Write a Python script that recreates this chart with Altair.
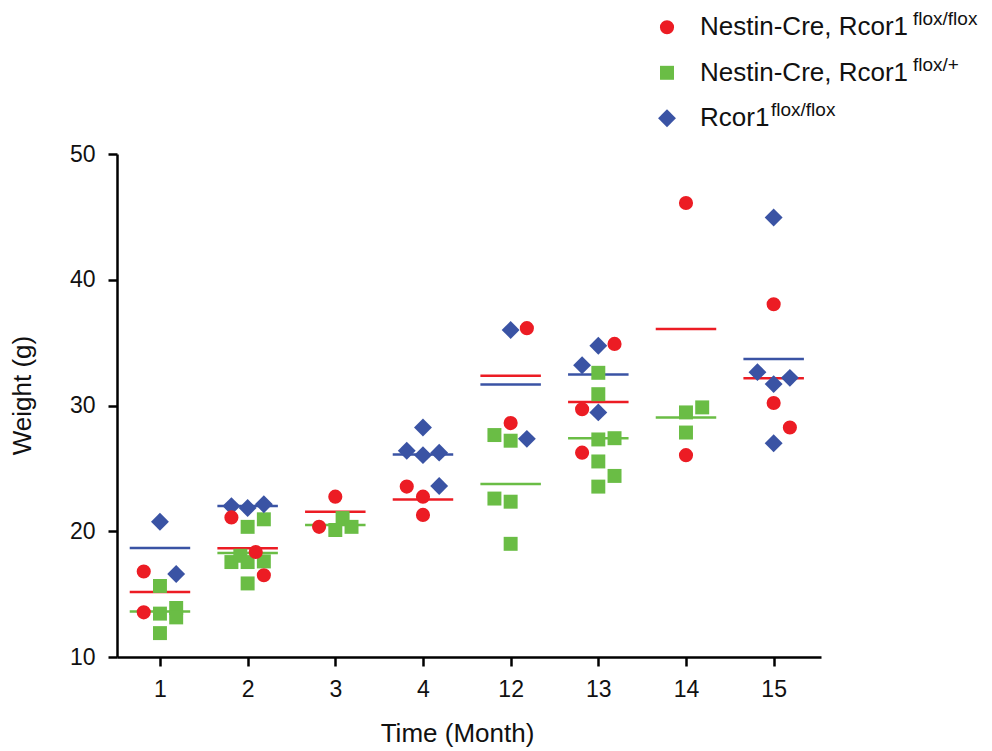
import altair as alt
import pandas as pd

# ---------------- data ----------------
months = ["1", "2", "3", "4", "12", "13", "14", "15"]
groups = ["Nestin-Cre, Rcor1 flox/flox", "Nestin-Cre, Rcor1 flox/+", "Rcor1 flox/flox"]
legend_main = ["Nestin-Cre, Rcor1", "Nestin-Cre, Rcor1", "Rcor1"]
legend_sup = ["flox/flox", "flox/+", "flox/flox"]
colors = ["#EC1C24", "#6ABD45", "#3A53A4"]
shapes = ["circle", "square", "diamond"]

# Nestin-Cre, Rcor1 flox/flox (red circles)
red_month = ["1", "1", "2", "2", "2", "3", "3", "4", "4", "4", "12", "12",
             "13", "13", "13", "14", "14", "15", "15", "15"]
red_slot = [-1, -1, -1, 0.5, 1, 0, -1, -1, 0, 0, 1, 0, 1, -1, -1, 0, 0, 0, 0, 1]
red_weight = [16.8, 13.55, 21.1, 18.35, 16.5, 22.75, 20.35, 23.55, 22.75, 21.3,
              36.15, 28.6, 34.9, 29.7, 26.25, 46.1, 26.05, 38.05, 30.2, 28.25]

# Nestin-Cre, Rcor1 flox/+ (green squares)
green_month = ["1", "1", "1", "1", "1",
               "2", "2", "2", "2", "2", "2", "2",
               "3", "3", "3",
               "12", "12", "12", "12", "12",
               "13", "13", "13", "13", "13", "13", "13",
               "14", "14", "14"]
green_slot = [0, 0, 1, 1, 0,
              0, 1, -1, -0.45, 0, 1, 0,
              0.45, 0, 1,
              -1, 0, -1, 0, 0,
              0, 0, 0, 1, 0, 1, 0,
              0, 1, 0]
green_weight = [15.65, 13.45, 13.9, 13.15, 11.9,
                20.35, 20.95, 17.55, 18.05, 17.55, 17.6, 15.85,
                21.05, 20.1, 20.35,
                27.65, 27.2, 22.6, 22.35, 19.0,
                32.6, 30.9, 27.3, 27.4, 25.55, 24.4, 23.55,
                29.45, 29.85, 27.85]

# Rcor1 flox/flox (blue diamonds)
blue_month = ["1", "1", "2", "2", "2", "4", "4", "4", "4", "4", "12", "12",
              "13", "13", "13", "15", "15", "15", "15", "15"]
blue_slot = [0, 1, -1, 0, 1, 0, -1, 0, 1, 1, 0, 1, 0, -1, 0, 0, -1, 1, 0, 0]
blue_weight = [20.75, 16.6, 22.0, 21.85, 22.15, 28.25, 26.4, 26.05, 26.25, 23.6,
               36.0, 27.35, 34.75, 33.2, 29.45, 44.95, 32.65, 32.2, 31.7, 27.0]

JITTER = 0.185
HALF_MEAN = 0.345
FONT = "Liberation Sans, Arial, Helvetica, sans-serif"
MARK_SIZE = {"circle": 200, "square": 195, "diamond": 320}


def frame(month, slot, weight, group):
    d = pd.DataFrame({"month": month, "slot": slot, "weight": weight})
    d["group"] = group
    d["idx"] = [months.index(m) for m in month]
    d["xpos"] = d["idx"] + d["slot"] * JITTER
    return d


frames = {
    groups[0]: frame(red_month, red_slot, red_weight, groups[0]),
    groups[1]: frame(green_month, green_slot, green_weight, groups[1]),
    groups[2]: frame(blue_month, blue_slot, blue_weight, groups[2]),
}
df = pd.concat([frames[groups[1]], frames[groups[2]], frames[groups[0]]],
               ignore_index=True)

# ---------------- scales / axes ----------------
x_scale = alt.Scale(domain=[-0.49, 7.54], nice=False, zero=False)
y_scale = alt.Scale(domain=[10, 50], nice=False, zero=False)
color_scale = alt.Scale(domain=groups, range=colors)

months_js = "[" + ",".join("'" + m + "'" for m in months) + "]"

x_axis = alt.Axis(
    values=list(range(len(months))),
    labelExpr=months_js + "[datum.value]",
    title="Time (Month)",
    titleX=340, titleY=84, titleBaseline="alphabetic", titleAlign="center",
    titleFontSize=26, titleFontWeight="normal", titleFont=FONT, titleColor="#111",
    labelFontSize=23, labelFont=FONT, labelColor="#111", labelPadding=12,
    tickSize=9, tickWidth=2.5, tickColor="#000",
    domainWidth=2.5, domainColor="#000", grid=False, labelFlush=False,
)
y_axis = alt.Axis(
    values=[10, 20, 30, 40, 50],
    title="Weight (g)",
    titleX=-95, titleY=241, titleAngle=-90, titleBaseline="middle", titleAlign="center",
    titleFontSize=26, titleFontWeight="normal", titleFont=FONT, titleColor="#111",
    labelFontSize=23, labelFont=FONT, labelColor="#111", labelPadding=13,
    tickSize=9, tickWidth=2.5, tickColor="#000",
    domainWidth=2.5, domainColor="#000", grid=False,
)

# ---------------- layers ----------------
means = alt.Chart(df).transform_aggregate(
    mean="mean(weight)", groupby=["idx", "group"]
).transform_calculate(
    x1=f"datum.idx - {HALF_MEAN}", x2=f"datum.idx + {HALF_MEAN}"
).mark_rule(strokeWidth=2.5).encode(
    x=alt.X("x1:Q", scale=x_scale, axis=x_axis),
    x2="x2:Q",
    y=alt.Y("mean:Q", scale=y_scale, axis=y_axis),
    color=alt.Color("group:N", scale=color_scale, legend=None),
)

layers = [means]
for gi in [1, 2, 0]:  # draw green, then blue, then red on top
    g = groups[gi]
    layers.append(
        alt.Chart(frames[g]).mark_point(
            filled=True, opacity=1, strokeWidth=0,
            shape=shapes[gi], size=MARK_SIZE[shapes[gi]],
        ).encode(
            x=alt.X("xpos:Q", scale=x_scale, axis=x_axis),
            y=alt.Y("weight:Q", scale=y_scale, axis=y_axis),
            color=alt.Color("group:N", scale=color_scale, legend=None),
        )
    )

# ---------------- custom legend (with superscripts) ----------------
sup_x = [796, 796, 654]
for i, g in enumerate(groups):
    ysym = -126.7 + i * 45.5
    ld = pd.DataFrame({"group": [g]})
    sym = alt.Chart(ld).mark_point(
        filled=True, opacity=1, strokeWidth=0,
        shape=shapes[i], size=MARK_SIZE[shapes[i]],
    ).encode(
        x=alt.value(550), y=alt.value(ysym),
        color=alt.Color("group:N", scale=color_scale, legend=None),
    )
    main_t = alt.Chart(ld).mark_text(
        text=legend_main[i], align="left", baseline="alphabetic",
        fontSize=26, font=FONT, color="#111",
    ).encode(x=alt.value(583), y=alt.value(ysym + 8))
    sup_t = alt.Chart(ld).mark_text(
        text=legend_sup[i], align="left", baseline="alphabetic",
        fontSize=19, font=FONT, color="#111",
    ).encode(x=alt.value(sup_x[i]), y=alt.value(ysym - 2.3))
    layers += [sym, main_t, sup_t]

chart = alt.layer(*layers).properties(
    width=704, height=503,
    autosize=alt.AutoSizeParams(type="none"),
    padding={"left": 117, "top": 154, "right": 171, "bottom": 94},
    background="white",
).configure_view(stroke=None)

chart.save("out.html", embed_options={"renderer": "svg", "actions": False})
